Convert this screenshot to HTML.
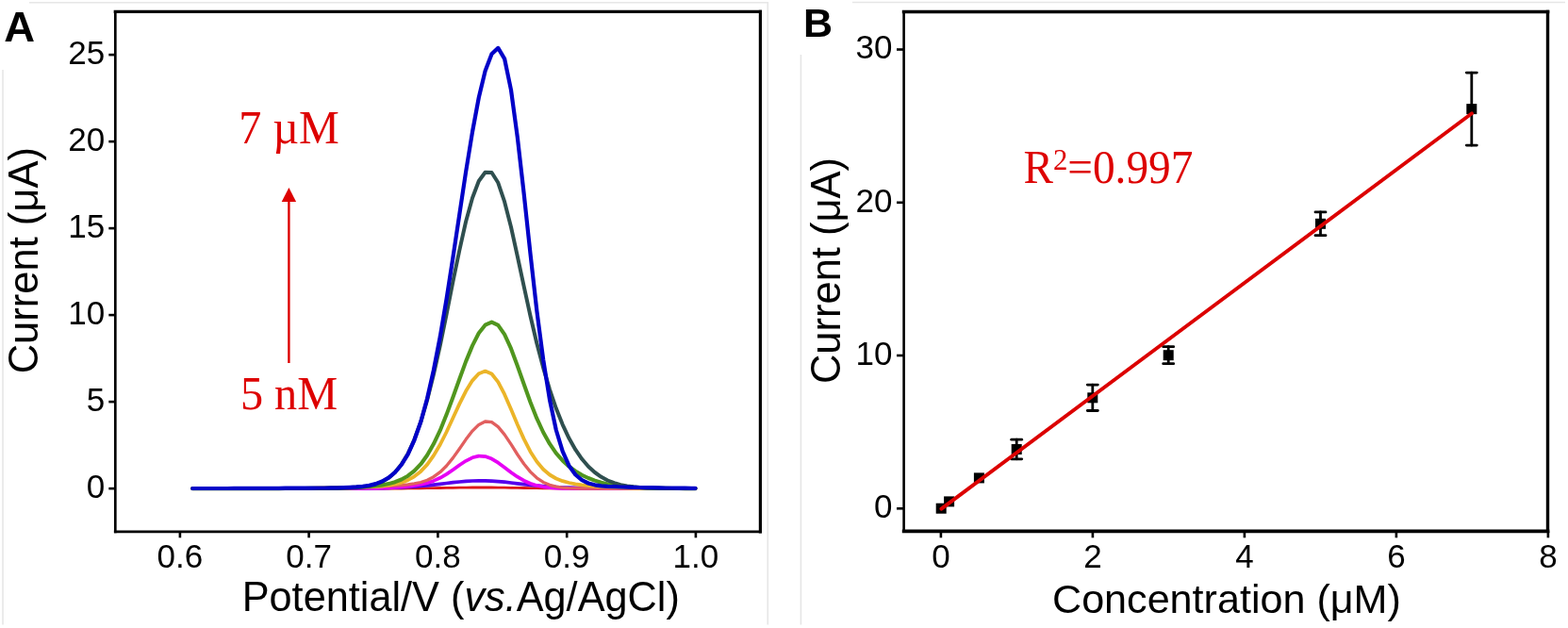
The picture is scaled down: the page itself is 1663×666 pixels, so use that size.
<!DOCTYPE html>
<html><head><meta charset="utf-8"><title>Figure</title>
<style>html,body{margin:0;padding:0;background:#fff;}svg{display:block;}</style>
</head><body>
<svg width="1663" height="666" viewBox="0 0 1663 666">
<rect width="100%" height="100%" fill="#fff"/>
<g stroke="#e6e6e6" stroke-width="1.6" fill="none">
<polyline points="31,2.7 814.3,2.7 814.3,662.5"/>
<line x1="3" y1="74" x2="3" y2="662.5"/>
<line x1="849.4" y1="58" x2="849.4" y2="662.5"/>
<line x1="904" y1="2.5" x2="1660" y2="2.5"/>
</g>
<g fill="none" stroke-width="4.2" stroke-linejoin="round" stroke-linecap="round">
<path stroke="#dd1a1a" stroke-width="2.8" d="M204.3,518.1 L206.9,518.1 L213.8,518.1 L220.6,518.1 L227.5,518.1 L234.3,518.1 L241.1,518.1 L248.0,518.1 L254.8,518.1 L261.6,518.1 L268.5,518.1 L275.3,518.1 L282.2,518.1 L289.0,518.1 L295.8,518.1 L302.7,518.1 L309.5,518.1 L316.3,518.1 L323.2,518.1 L330.0,518.1 L336.9,518.1 L343.7,518.1 L350.5,518.1 L357.4,518.1 L364.2,518.1 L371.0,518.1 L377.9,518.1 L384.7,518.1 L391.6,518.1 L398.4,518.1 L405.2,518.1 L412.1,518.0 L418.9,518.0 L425.7,518.0 L432.6,517.9 L439.4,517.9 L446.3,517.8 L453.1,517.7 L459.9,517.6 L466.8,517.5 L473.6,517.4 L480.4,517.3 L487.3,517.2 L494.1,517.1 L501.0,517.0 L507.8,517.0 L514.6,517.0 L521.5,517.0 L528.3,517.1 L535.1,517.2 L542.0,517.3 L548.8,517.4 L555.7,517.5 L562.5,517.6 L569.3,517.7 L576.2,517.8 L583.0,517.9 L589.8,517.9 L596.7,518.0 L603.5,518.0 L610.4,518.0 L617.2,518.1 L624.0,518.1 L630.9,518.1 L637.7,518.1 L644.5,518.1 L651.4,518.1 L658.2,518.1 L665.1,518.1 L671.9,518.1 L678.7,518.1 L685.6,518.1 L692.4,518.1 L699.2,518.1 L706.1,518.1 L712.9,518.1 L719.8,518.1 L726.6,518.1 L733.4,518.1 L737.5,518.1"/>
<path stroke="#5500ee" stroke-width="3.7" d="M204.3,518.1 L206.9,518.1 L213.8,518.1 L220.6,518.1 L227.5,518.1 L234.3,518.1 L241.1,518.1 L248.0,518.1 L254.8,518.1 L261.6,518.1 L268.5,518.1 L275.3,518.1 L282.2,518.1 L289.0,518.1 L295.8,518.1 L302.7,518.1 L309.5,518.1 L316.3,518.1 L323.2,518.1 L330.0,518.1 L336.9,518.1 L343.7,518.1 L350.5,518.0 L357.4,518.0 L364.2,518.0 L371.0,518.0 L377.9,517.9 L384.7,517.9 L391.6,517.8 L398.4,517.7 L405.2,517.6 L412.1,517.4 L418.9,517.2 L425.7,516.9 L432.6,516.5 L439.4,516.1 L446.3,515.5 L453.1,514.9 L459.9,514.1 L466.8,513.3 L473.6,512.5 L480.4,511.7 L487.3,511.0 L494.1,510.4 L501.0,510.0 L507.8,509.8 L514.6,509.9 L521.5,510.1 L528.3,510.6 L535.1,511.2 L542.0,512.0 L548.8,512.8 L555.7,513.6 L562.5,514.3 L569.3,515.0 L576.2,515.7 L583.0,516.2 L589.8,516.6 L596.7,517.0 L603.5,517.2 L610.4,517.4 L617.2,517.6 L624.0,517.7 L630.9,517.8 L637.7,517.9 L644.5,517.9 L651.4,518.0 L658.2,518.0 L665.1,518.0 L671.9,518.0 L678.7,518.1 L685.6,518.1 L692.4,518.1 L699.2,518.1 L706.1,518.1 L712.9,518.1 L719.8,518.1 L726.6,518.1 L733.4,518.1 L737.5,518.1"/>
<path stroke="#e600f5" stroke-width="3.7" d="M204.3,518.1 L206.9,518.1 L213.8,518.1 L220.6,518.1 L227.5,518.1 L234.3,518.1 L241.1,518.1 L248.0,518.1 L254.8,518.1 L261.6,518.1 L268.5,518.1 L275.3,518.1 L282.2,518.1 L289.0,518.1 L295.8,518.1 L302.7,518.1 L309.5,518.1 L316.3,518.1 L323.2,518.1 L330.0,518.1 L336.9,518.1 L343.7,518.1 L350.5,518.1 L357.4,518.1 L364.2,518.1 L371.0,518.1 L377.9,518.0 L384.7,518.0 L391.6,517.9 L398.4,517.8 L405.2,517.6 L412.1,517.3 L418.9,517.0 L425.7,516.5 L432.6,515.9 L439.4,515.0 L446.3,513.8 L453.1,512.2 L459.9,509.9 L466.8,506.8 L473.6,502.9 L480.4,498.3 L487.3,493.3 L494.1,488.8 L501.0,485.3 L507.8,483.6 L514.6,484.1 L521.5,486.6 L528.3,490.7 L535.1,495.7 L542.0,500.9 L548.8,505.7 L555.7,509.7 L562.5,512.7 L569.3,514.9 L576.2,516.3 L583.0,517.2 L589.8,517.6 L596.7,517.9 L603.5,518.0 L610.4,518.1 L617.2,518.1 L624.0,518.1 L630.9,518.1 L637.7,518.1 L644.5,518.1 L651.4,518.1 L658.2,518.1 L665.1,518.1 L671.9,518.1 L678.7,518.1 L685.6,518.1 L692.4,518.1 L699.2,518.1 L706.1,518.1 L712.9,518.1 L719.8,518.1 L726.6,518.1 L733.4,518.1 L737.5,518.1"/>
<path stroke="#e15f5f" stroke-width="3.3" d="M204.3,518.1 L206.9,518.1 L213.8,518.1 L220.6,518.1 L227.5,518.1 L234.3,518.1 L241.1,518.1 L248.0,518.1 L254.8,518.1 L261.6,518.0 L268.5,518.0 L275.3,518.0 L282.2,518.0 L289.0,518.0 L295.8,517.9 L302.7,517.9 L309.5,517.8 L316.3,517.8 L323.2,517.7 L330.0,517.6 L336.9,517.5 L343.7,517.4 L350.5,517.3 L357.4,517.2 L364.2,517.0 L371.0,516.8 L377.9,516.6 L384.7,516.4 L391.6,516.2 L398.4,515.9 L405.2,515.6 L412.1,515.3 L418.9,514.9 L425.7,514.5 L432.6,513.9 L439.4,512.9 L446.3,511.5 L453.1,509.2 L459.9,505.7 L466.8,500.7 L473.6,494.0 L480.4,485.6 L487.3,476.0 L494.1,466.1 L501.0,457.1 L507.8,450.4 L514.6,447.0 L521.5,447.7 L528.3,452.6 L535.1,460.9 L542.0,471.2 L548.8,482.0 L555.7,492.0 L562.5,500.4 L569.3,506.8 L576.2,511.4 L583.0,514.3 L589.8,516.1 L596.7,517.1 L603.5,517.6 L610.4,517.9 L617.2,518.0 L624.0,518.1 L630.9,518.1 L637.7,518.1 L644.5,518.1 L651.4,518.1 L658.2,518.1 L665.1,518.1 L671.9,518.1 L678.7,518.1 L685.6,518.1 L692.4,518.1 L699.2,518.1 L706.1,518.1 L712.9,518.1 L719.8,518.1 L726.6,518.1 L733.4,518.1 L737.5,518.1"/>
<path stroke="#ebb428" stroke-width="3.8" d="M204.3,518.1 L206.9,518.1 L213.8,518.1 L220.6,518.1 L227.5,518.1 L234.3,518.1 L241.1,518.1 L248.0,518.1 L254.8,518.1 L261.6,518.1 L268.5,518.1 L275.3,518.1 L282.2,518.1 L289.0,518.0 L295.8,518.0 L302.7,518.0 L309.5,518.0 L316.3,517.9 L323.2,517.9 L330.0,517.8 L336.9,517.8 L343.7,517.7 L350.5,517.6 L357.4,517.5 L364.2,517.3 L371.0,517.2 L377.9,517.0 L384.7,516.7 L391.6,516.4 L398.4,516.0 L405.2,515.5 L412.1,514.7 L418.9,513.5 L425.7,511.8 L432.6,509.2 L439.4,505.3 L446.3,499.9 L453.1,492.6 L459.9,483.1 L466.8,471.5 L473.6,458.0 L480.4,443.3 L487.3,428.4 L494.1,414.8 L501.0,403.6 L507.8,396.3 L514.6,393.6 L521.5,396.5 L528.3,405.1 L535.1,418.2 L542.0,433.9 L548.8,450.2 L555.7,465.6 L562.5,478.9 L569.3,489.6 L576.2,497.7 L583.0,503.5 L589.8,507.5 L596.7,510.2 L603.5,512.0 L610.4,513.3 L617.2,514.3 L624.0,515.0 L630.9,515.6 L637.7,516.0 L644.5,516.4 L651.4,516.8 L658.2,517.1 L665.1,517.3 L671.9,517.5 L678.7,517.6 L685.6,517.7 L692.4,517.8 L699.2,517.9 L706.1,518.0 L712.9,518.0 L719.8,518.0 L726.6,518.0 L733.4,518.1 L737.5,518.1"/>
<path stroke="#50961e" stroke-width="4.1" d="M204.3,518.1 L206.9,518.1 L213.8,518.1 L220.6,518.1 L227.5,518.1 L234.3,518.1 L241.1,518.1 L248.0,518.1 L254.8,518.1 L261.6,518.1 L268.5,518.1 L275.3,518.1 L282.2,518.1 L289.0,518.1 L295.8,518.1 L302.7,518.0 L309.5,518.0 L316.3,518.0 L323.2,518.0 L330.0,517.9 L336.9,517.8 L343.7,517.7 L350.5,517.6 L357.4,517.5 L364.2,517.3 L371.0,517.1 L377.9,516.8 L384.7,516.4 L391.6,516.0 L398.4,515.3 L405.2,514.4 L412.1,513.1 L418.9,511.2 L425.7,508.5 L432.6,504.7 L439.4,499.4 L446.3,492.2 L453.1,482.7 L459.9,470.8 L466.8,456.4 L473.6,439.6 L480.4,421.2 L487.3,402.0 L494.1,383.4 L501.0,366.6 L507.8,353.3 L514.6,344.7 L521.5,341.6 L528.3,344.9 L535.1,354.7 L542.0,369.7 L548.8,388.0 L555.7,407.5 L562.5,426.5 L569.3,443.7 L576.2,458.5 L583.0,470.7 L589.8,480.6 L596.7,488.4 L603.5,494.7 L610.4,499.7 L617.2,503.8 L624.0,507.0 L630.9,509.6 L637.7,511.7 L644.5,513.4 L651.4,514.6 L658.2,515.6 L665.1,516.3 L671.9,516.9 L678.7,517.3 L685.6,517.5 L692.4,517.7 L699.2,517.9 L706.1,517.9 L712.9,518.0 L719.8,518.0 L726.6,518.1 L733.4,518.1 L737.5,518.1"/>
<path stroke="#2f4f4f" stroke-width="4.0" d="M204.3,518.1 L206.9,518.1 L213.8,518.1 L220.6,518.1 L227.5,518.1 L234.3,518.1 L241.1,518.1 L248.0,518.1 L254.8,518.1 L261.6,518.1 L268.5,518.1 L275.3,518.1 L282.2,518.1 L289.0,518.1 L295.8,518.1 L302.7,518.1 L309.5,518.1 L316.3,518.1 L323.2,518.1 L330.0,518.1 L336.9,518.1 L343.7,518.1 L350.5,518.0 L357.4,518.0 L364.2,517.8 L371.0,517.6 L377.9,517.2 L384.7,516.6 L391.6,515.5 L398.4,513.7 L405.2,511.0 L412.1,506.9 L418.9,501.0 L425.7,492.6 L432.6,481.3 L439.4,466.3 L446.3,447.4 L453.1,424.3 L459.9,397.0 L466.8,366.3 L473.6,333.0 L480.4,298.7 L487.3,265.3 L494.1,235.0 L501.0,210.0 L507.8,192.0 L514.6,182.7 L521.5,183.0 L528.3,193.8 L535.1,213.9 L542.0,240.8 L548.8,271.7 L555.7,303.8 L562.5,335.0 L569.3,364.0 L576.2,390.1 L583.0,413.1 L589.8,433.1 L596.7,450.3 L603.5,464.8 L610.4,476.9 L617.2,486.8 L624.0,494.8 L630.9,501.0 L637.7,505.8 L644.5,509.5 L651.4,512.1 L658.2,514.1 L665.1,515.4 L671.9,516.3 L678.7,517.0 L685.6,517.4 L692.4,517.7 L699.2,517.8 L706.1,517.9 L712.9,518.0 L719.8,518.0 L726.6,518.1 L733.4,518.1 L737.5,518.1"/>
<path stroke="#0000c8" stroke-width="4.2" d="M204.3,518.0 L206.9,518.0 L213.8,518.0 L220.6,518.0 L227.5,518.0 L234.3,518.0 L241.1,518.0 L248.0,517.9 L254.8,517.9 L261.6,517.9 L268.5,517.9 L275.3,517.9 L282.2,517.8 L289.0,517.8 L295.8,517.8 L302.7,517.7 L309.5,517.7 L316.3,517.7 L323.2,517.6 L330.0,517.6 L336.9,517.5 L343.7,517.5 L350.5,517.4 L357.4,517.3 L364.2,517.1 L371.0,516.8 L377.9,516.4 L384.7,515.8 L391.6,514.7 L398.4,513.1 L405.2,510.5 L412.1,506.7 L418.9,501.0 L425.7,493.0 L432.6,481.8 L439.4,466.8 L446.3,447.2 L453.1,422.5 L459.9,392.4 L466.8,357.0 L473.6,316.8 L480.4,273.1 L487.3,227.4 L494.1,182.2 L501.0,140.0 L507.8,103.5 L514.6,75.2 L521.5,57.2 L528.3,50.9 L535.1,62.3 L542.0,95.4 L548.8,145.5 L555.7,205.7 L562.5,269.1 L569.3,329.2 L576.2,381.6 L583.0,424.0 L589.8,456.0 L596.7,478.7 L603.5,493.9 L610.4,503.5 L617.2,509.2 L624.0,512.5 L630.9,514.3 L637.7,515.3 L644.5,515.9 L651.4,516.2 L658.2,516.5 L665.1,516.7 L671.9,516.8 L678.7,517.0 L685.6,517.1 L692.4,517.2 L699.2,517.4 L706.1,517.5 L712.9,517.5 L719.8,517.6 L726.6,517.7 L733.4,517.8 L737.5,517.8"/>
</g>
<g stroke="#000" fill="none" stroke-linecap="square">
<line x1="122.3" y1="12.3" x2="806.4" y2="12.3" stroke-width="3.2"/>
<line x1="806.4" y1="12.3" x2="806.4" y2="563.8" stroke-width="3.2"/>
<line x1="122.3" y1="12.3" x2="122.3" y2="563.8" stroke-width="2.7"/>
<line x1="122.3" y1="563.8" x2="806.4" y2="563.8" stroke-width="2.8"/>
</g>
<g stroke="#000" stroke-width="2.6">
<line x1="115.3" y1="518.1" x2="122.3" y2="518.1"/>
<line x1="115.3" y1="426.1" x2="122.3" y2="426.1"/>
<line x1="115.3" y1="334.1" x2="122.3" y2="334.1"/>
<line x1="115.3" y1="242.1" x2="122.3" y2="242.1"/>
<line x1="115.3" y1="150.1" x2="122.3" y2="150.1"/>
<line x1="115.3" y1="58.1" x2="122.3" y2="58.1"/>
<line x1="190.9" y1="563.8" x2="190.9" y2="570.3"/>
<line x1="327.6" y1="563.8" x2="327.6" y2="570.3"/>
<line x1="464.4" y1="563.8" x2="464.4" y2="570.3"/>
<line x1="601.2" y1="563.8" x2="601.2" y2="570.3"/>
<line x1="737.9" y1="563.8" x2="737.9" y2="570.3"/>
</g>
<g font-family="'Liberation Sans', Arial, sans-serif" font-size="35" fill="#000">
<text x="111.3" y="528.3" text-anchor="end">0</text>
<text x="111.3" y="436.3" text-anchor="end">5</text>
<text x="111.3" y="344.3" text-anchor="end">10</text>
<text x="111.3" y="252.3" text-anchor="end">15</text>
<text x="111.3" y="160.3" text-anchor="end">20</text>
<text x="111.3" y="68.3" text-anchor="end">25</text>
<text x="190.9" y="602" text-anchor="middle">0.6</text>
<text x="327.6" y="602" text-anchor="middle">0.7</text>
<text x="464.4" y="602" text-anchor="middle">0.8</text>
<text x="601.2" y="602" text-anchor="middle">0.9</text>
<text x="737.9" y="602" text-anchor="middle">1.0</text>
</g>
<text font-family="'Liberation Sans', Arial, sans-serif" font-size="43.5" transform="translate(256.7,648.2) scale(0.995,1)">Potential/V (<tspan font-style="italic">vs.</tspan>Ag/AgCl)</text>
<text font-family="'Liberation Sans', Arial, sans-serif" font-size="43.5" transform="translate(39.9,276.2) rotate(-90)" text-anchor="middle">Current (μA)</text>
<text font-family="'Liberation Sans', Arial, sans-serif" font-size="43.5" font-weight="bold" transform="translate(4.3,43.9) scale(1.045,1)">A</text>
<g fill="#dd0000" font-family="'Liberation Serif', 'Times New Roman', serif" font-size="50">
<text transform="translate(253.2,152.3) scale(0.962,1)">7 µM</text>
<text transform="translate(254.9,434) scale(0.965,1)">5 nM</text>
</g>
<line x1="306.4" y1="385" x2="306.4" y2="210" stroke="#dd0000" stroke-width="2.4"/>
<polygon points="306.4,199 298.7,214 314.1,214" fill="#dd0000"/>
<g stroke="#000" fill="none" stroke-linecap="square">
<line x1="958.6" y1="12.5" x2="1641.5" y2="12.5" stroke-width="3.6"/>
<line x1="1641.5" y1="12.5" x2="1641.5" y2="563.4" stroke-width="3.4"/>
<line x1="958.6" y1="12.5" x2="958.6" y2="563.4" stroke-width="2.6"/>
<line x1="958.6" y1="563.4" x2="1641.5" y2="563.4" stroke-width="3.6"/>
</g>
<g stroke="#000" stroke-width="2.6">
<line x1="951" y1="539.3" x2="958.6" y2="539.3"/>
<line x1="951" y1="377.0" x2="958.6" y2="377.0"/>
<line x1="951" y1="214.8" x2="958.6" y2="214.8"/>
<line x1="951" y1="52.5" x2="958.6" y2="52.5"/>
<line x1="997.9" y1="563.4" x2="997.9" y2="570.3"/>
<line x1="1158.9" y1="563.4" x2="1158.9" y2="570.3"/>
<line x1="1319.9" y1="563.4" x2="1319.9" y2="570.3"/>
<line x1="1480.9" y1="563.4" x2="1480.9" y2="570.3"/>
<line x1="1641.9" y1="563.4" x2="1641.9" y2="570.3"/>
</g>
<g font-family="'Liberation Sans', Arial, sans-serif" font-size="35" fill="#000">
<text x="946.4" y="549.0" text-anchor="end">0</text>
<text x="946.4" y="386.7" text-anchor="end">10</text>
<text x="946.4" y="224.5" text-anchor="end">20</text>
<text x="946.4" y="62.2" text-anchor="end">30</text>
<text x="997.9" y="601.5" text-anchor="middle">0</text>
<text x="1158.9" y="601.5" text-anchor="middle">2</text>
<text x="1319.9" y="601.5" text-anchor="middle">4</text>
<text x="1480.9" y="601.5" text-anchor="middle">6</text>
<text x="1641.9" y="601.5" text-anchor="middle">8</text>
</g>
<text font-family="'Liberation Sans', Arial, sans-serif" font-size="43" transform="translate(1116,649.8) scale(1.003,1)">Concentration (μM)</text>
<text font-family="'Liberation Sans', Arial, sans-serif" font-size="43.5" transform="translate(891,287) rotate(-90)" text-anchor="middle">Current (μA)</text>
<text font-family="'Liberation Sans', Arial, sans-serif" font-size="43" font-weight="bold" x="852" y="39">B</text>
<g stroke="#000" stroke-width="2.8" stroke-linecap="round" fill="#000">
<rect x="992.7" y="533.7" width="11" height="11" stroke="none"/>
<rect x="1001.1" y="526.4" width="11" height="11" stroke="none"/>
<rect x="1032.9" y="501.4" width="11" height="11" stroke="none"/>
<line x1="1078.2" y1="466.2" x2="1078.2" y2="486.8"/>
<line x1="1072.7" y1="466.2" x2="1083.7" y2="466.2"/>
<line x1="1072.7" y1="486.8" x2="1083.7" y2="486.8"/>
<rect x="1072.7" y="471.0" width="11" height="11" stroke="none"/>
<line x1="1158.8" y1="408.1" x2="1158.8" y2="435.5"/>
<line x1="1153.3" y1="408.1" x2="1164.3" y2="408.1"/>
<line x1="1153.3" y1="435.5" x2="1164.3" y2="435.5"/>
<rect x="1153.3" y="416.3" width="11" height="11" stroke="none"/>
<line x1="1239.2" y1="367.7" x2="1239.2" y2="385.7"/>
<line x1="1233.7" y1="367.7" x2="1244.7" y2="367.7"/>
<line x1="1233.7" y1="385.7" x2="1244.7" y2="385.7"/>
<rect x="1233.7" y="371.2" width="11" height="11" stroke="none"/>
<line x1="1400.5" y1="224.9" x2="1400.5" y2="249.7"/>
<line x1="1395.0" y1="224.9" x2="1406.0" y2="224.9"/>
<line x1="1395.0" y1="249.7" x2="1406.0" y2="249.7"/>
<rect x="1395.0" y="231.8" width="11" height="11" stroke="none"/>
<line x1="1560.8" y1="77.1" x2="1560.8" y2="154.1"/>
<line x1="1555.3" y1="77.1" x2="1566.3" y2="77.1"/>
<line x1="1555.3" y1="154.1" x2="1566.3" y2="154.1"/>
<rect x="1555.3" y="110.1" width="11" height="11" stroke="none"/>
</g>
<line x1="998.4" y1="539.6" x2="1561" y2="120.3" stroke="#dc0000" stroke-width="3.9" stroke-linecap="round"/>
<text fill="#dd0000" font-family="'Liberation Serif', 'Times New Roman', serif" font-size="50" transform="translate(1085.5,193.7) scale(0.945,1)">R<tspan font-size="32.5" dy="-13.5">2</tspan><tspan dy="13.5">=0.997</tspan></text>
</svg>
</body></html>
